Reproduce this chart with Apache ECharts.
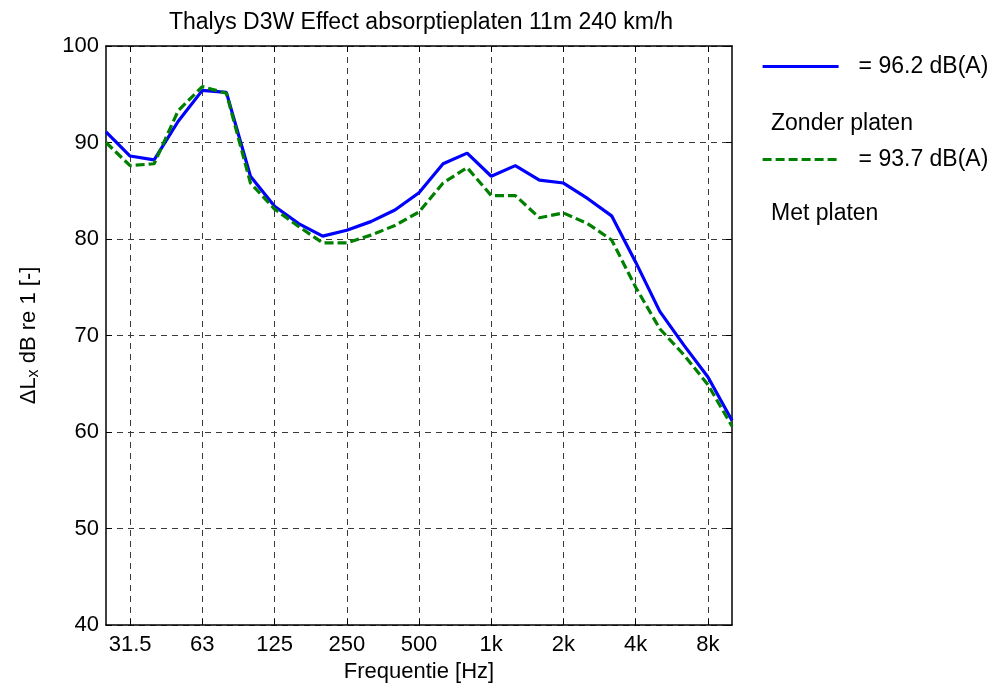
<!DOCTYPE html>
<html>
<head>
<meta charset="utf-8">
<script src="https://cdn.jsdelivr.net/npm/echarts@6/dist/echarts.min.js"></script>
<style>
html,body{margin:0;padding:0;background:#fff;}
#chart{width:1007px;height:689px;}
</style>
</head>
<body>
<div id="chart"></div>
<script>
// Third-octave band centre frequencies (Hz)
const bands = ['25','31.5','40','50','63','80','100','125','160','200','250','315','400','500','630','800','1k','1.25k','1.6k','2k','2.5k','3.15k','4k','5k','6.3k','8k','10k'];
// Bands that carry a tick label / grid line
const labelledBands = ['31.5','63','125','250','500','1k','2k','4k','8k'];
// Series values (dB)
const zonderPlaten = [91.1, 88.6, 88.2, 92.2, 95.4, 95.2, 86.5, 83.4, 81.6, 80.3, 80.9, 81.8, 83.0, 84.8, 87.8, 88.9, 86.5, 87.6, 86.1, 85.8, 84.2, 82.4, 77.6, 72.5, 69.0, 65.7, 61.2];
const metPlaten    = [90.0, 87.6, 87.8, 93.3, 95.8, 95.1, 85.8, 83.1, 81.3, 79.6, 79.6, 80.4, 81.4, 82.8, 85.8, 87.4, 84.5, 84.5, 82.2, 82.7, 81.6, 79.9, 75.0, 70.7, 68.0, 64.9, 60.6];
const seriesNames = ['Zonder platen', 'Met platen'];
const levelTexts  = ['= 96.2 dB(A)', '= 93.7 dB(A)'];
const yTicks = [40, 50, 60, 70, 80, 90, 100];

const FONT = '"Liberation Sans", Arial, sans-serif';
const chart = echarts.init(document.getElementById('chart'), null, {renderer: 'canvas'});
const isLabelled = (idx) => labelledBands.indexOf(bands[idx]) >= 0;
const gridDash = {color: '#3a3a3a', width: 1, type: [6, 5]};

const option = {
  backgroundColor: '#fff',
  animation: false,
  textStyle: {fontFamily: FONT},
  title: {
    text: 'Thalys D3W Effect absorptieplaten 11m 240 km/h',
    left: 416, top: 6, textAlign: 'center',
    textStyle: {fontFamily: FONT, fontSize: 23, fontWeight: 'normal', color: '#000'}
  },
  grid: {left: 106, right: 275, top: 46, bottom: 64, containLabel: false},
  legend: {
    orient: 'vertical', left: 756, top: 50,
    itemWidth: 76, itemHeight: 14, itemGap: 70,
    data: seriesNames,
    itemStyle: {opacity: 0},
    lineStyle: {width: 3.2},
    formatter: (name) => levelTexts[seriesNames.indexOf(name)],
    textStyle: {fontFamily: FONT, fontSize: 23, color: '#000', padding: [0, 0, 0, 15]}
  },
  graphic: seriesNames.map((n, i) => ({
    type: 'text', left: 771, top: i === 0 ? 112 : 202,
    style: {text: n, font: '23px ' + FONT, fill: '#000'}
  })),
  xAxis: [{
    type: 'category', data: bands, boundaryGap: false,
    name: 'Frequentie [Hz]', nameLocation: 'middle', nameGap: 36,
    nameTextStyle: {fontFamily: FONT, fontSize: 22, color: '#000'},
    axisLine: {lineStyle: {color: '#000', width: 1.5}},
    axisTick: {inside: true, length: 6, interval: isLabelled, lineStyle: {color: '#000'}},
    axisLabel: {interval: isLabelled, fontFamily: FONT, fontSize: 22, color: '#000', margin: 9},
    splitLine: {show: true, interval: isLabelled, lineStyle: gridDash}
  }, {
    type: 'category', data: bands, boundaryGap: false, position: 'top',
    axisLine: {lineStyle: {color: '#000', width: 1.5}},
    axisTick: {inside: true, length: 6, interval: isLabelled, lineStyle: {color: '#000'}},
    axisLabel: {show: false}, splitLine: {show: false}
  }],
  yAxis: [{
    type: 'value', min: yTicks[0], max: yTicks[yTicks.length - 1], interval: 10,
    name: 'ΔL{sub|x} dB re 1 [-]', nameLocation: 'middle', nameGap: 64, nameRotate: 90,
    nameTextStyle: {fontFamily: FONT, fontSize: 22, color: '#000',
      rich: {sub: {fontFamily: FONT, fontSize: 16, color: '#000', verticalAlign: 'bottom', padding: [10, 0, 0, 0]}}},
    axisLine: {show: true, lineStyle: {color: '#000', width: 1.5}},
    axisTick: {show: true, inside: true, length: 6, lineStyle: {color: '#000'}},
    axisLabel: {fontFamily: FONT, fontSize: 22, color: '#000', margin: 7},
    splitLine: {show: true, lineStyle: gridDash}
  }, {
    type: 'value', min: yTicks[0], max: yTicks[yTicks.length - 1], interval: 10, position: 'right',
    axisLine: {show: true, lineStyle: {color: '#000', width: 1.5}},
    axisTick: {show: true, inside: true, length: 6, lineStyle: {color: '#000'}},
    axisLabel: {show: false}, splitLine: {show: false}
  }],
  series: [{
    name: seriesNames[0], type: 'line', data: zonderPlaten, symbol: 'none',
    lineStyle: {color: '#0000ff', width: 3.2, type: 'solid'}, itemStyle: {color: '#0000ff'}, z: 3
  }, {
    name: seriesNames[1], type: 'line', data: metPlaten, symbol: 'none',
    lineStyle: {color: '#008000', width: 3.2, type: [9, 4]}, itemStyle: {color: '#008000'}, z: 4
  }]
};
chart.setOption(option);
</script>
</body>
</html>
